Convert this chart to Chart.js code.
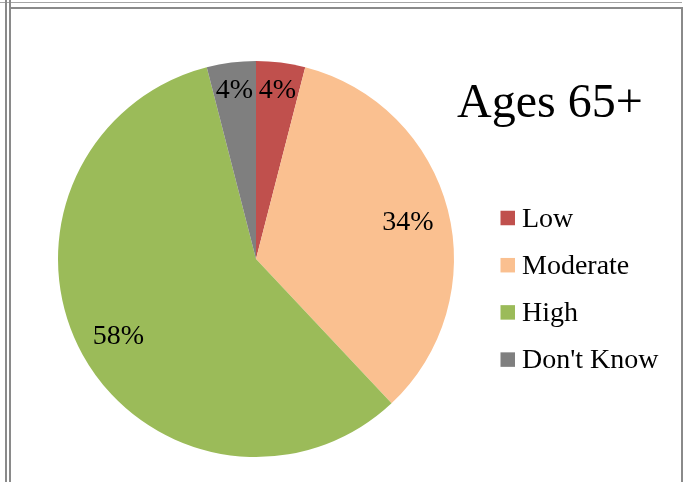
<!DOCTYPE html>
<html>
<head>
<meta charset="utf-8">
<script src="https://cdn.jsdelivr.net/npm/chart.js@4"></script>
<style>
  html, body { margin: 0; padding: 0; background: #fff; }
  #wrap { position: relative; width: 684px; height: 482px; overflow: hidden; }
  .rule { position: absolute; background: #8a8a8a; }
</style>
</head>
<body>
<div id="wrap">
  <canvas id="agePie"></canvas>
  <!-- frame lines around the picture -->
  <div class="rule" style="left:0; top:2px; width:682px; height:1px; background:#a6a6a6;"></div>
  <div class="rule" style="left:9px; top:7px; width:674px; height:2px;"></div>
  <div class="rule" style="left:5px; top:0; width:2px; height:482px;"></div>
  <div class="rule" style="left:9px; top:0; width:2px; height:482px;"></div>
  <div class="rule" style="left:681px; top:7px; width:2px; height:475px;"></div>
</div>
<script>
// chart data
const categories = ['Low', 'Moderate', 'High', "Don't Know"];
const shares = [4, 34, 58, 4];
const sliceColors = ['#C0504D', '#FAC090', '#9BBB59', '#7F7F7F'];
const chartTitle = 'Ages 65+';

const serif = '"Liberation Serif", "DejaVu Serif", serif';

// percentage labels placed at the inside end of each slice
const sliceLabels = {
    id: 'sliceLabels',
    afterDatasetsDraw(chart) {
        const ctx = chart.ctx;
        const size = 28;
        ctx.save();
        ctx.font = size + 'px ' + serif;
        ctx.fillStyle = '#000';
        ctx.textAlign = 'center';
        ctx.textBaseline = 'alphabetic';
        chart.getDatasetMeta(0).data.forEach((arc, i) => {
            const p = arc.getProps(['x', 'y', 'startAngle', 'endAngle', 'outerRadius'], true);
            const mid = (p.startAngle + p.endAngle) / 2;
            const ux = Math.cos(mid), uy = Math.sin(mid);
            const text = shares[i] + '%';
            const w = ctx.measureText(text).width;
            const h = size * 0.68;
            const a = Math.sign(ux) * w / 2, b = Math.sign(uy) * h / 2;
            const T = p.outerRadius - 14;
            const q = ux * a + uy * b;
            const d = -q + Math.sqrt(q * q - (a * a + b * b - T * T));
            ctx.fillText(text, p.x + d * ux, p.y + d * uy + h / 2);
        });
        ctx.restore();
    }
};

// title and legend on the right side
const sidePanel = {
    id: 'sidePanel',
    afterDraw(chart) {
        const ctx = chart.ctx;
        ctx.save();
        ctx.fillStyle = '#000';
        ctx.textAlign = 'left';
        ctx.textBaseline = 'alphabetic';
        ctx.font = '48px ' + serif;
        ctx.fillText(chartTitle, 457, 117);

        ctx.font = '28px ' + serif;
        categories.forEach((name, i) => {
            const cy = 218 + i * 47.2;
            ctx.fillStyle = sliceColors[i];
            ctx.fillRect(500.5, cy - 7.25, 14.5, 14.5);
            ctx.fillStyle = '#000';
            ctx.fillText(name, 522, cy + 8.5);
        });
        ctx.restore();
    }
};

const config = {
    type: 'pie',
    data: {
        labels: categories,
        datasets: [{
            data: shares,
            backgroundColor: sliceColors,
            borderWidth: 0,
        }]
    },
    options: {
        responsive: true,
        maintainAspectRatio: false,
        animation: false,
        layout: {
            padding: { left: 58, right: 230, top: 61, bottom: 25 }
        },
        plugins: {
            legend: { display: false },
            tooltip: { enabled: false },
            title: { display: false },
        },
    },
    plugins: [sliceLabels, sidePanel],
};

new Chart(document.getElementById('agePie'), config);
</script>
</body>
</html>
